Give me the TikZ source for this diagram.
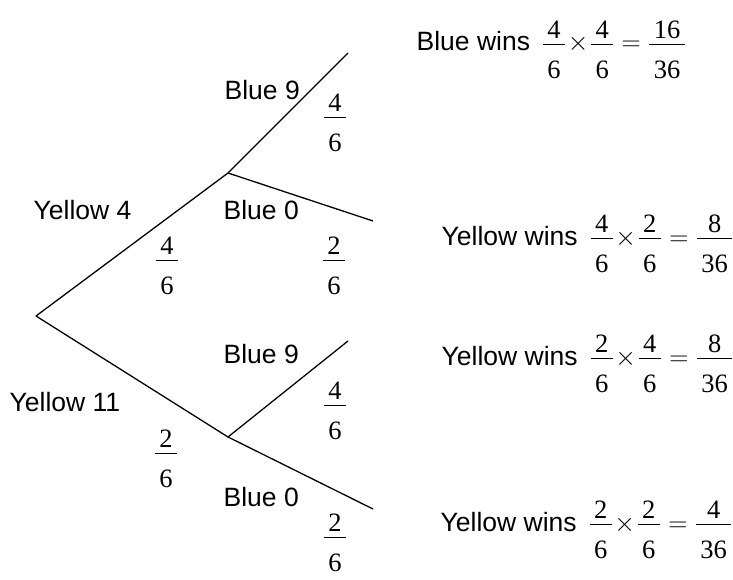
\RequirePackage{fix-cm}
\documentclass[tikz,border=0pt]{standalone}
\usepackage{amsmath}
\usepackage{fontspec}
\setmainfont{Liberation Serif}
\setsansfont{Liberation Sans}
\usetikzlibrary{positioning}
\newcommand{\pr}[2]{\dfrac{\raisebox{-5pt}{\,\textrm{#1}\,}}{\vrule height 30.8pt width 0pt\,\textrm{#2}\,}}

\begin{document}
\begin{tikzpicture}[x=1pt,y=-1pt,line width=1.3pt,
    lbl/.style={font=\sffamily\fontsize{26.5}{30}\selectfont,inner sep=0pt,anchor=west},
    prob/.style={font=\fontsize{26.5}{30}\selectfont,inner sep=0pt,anchor=base},
    res/.style={font=\sffamily\fontsize{26.5}{30}\selectfont,inner sep=0pt,anchor=base west}]
      \useasboundingbox (0,0) rectangle (733,580);

      % Tree points
      \coordinate (root) at (36,316);
      \coordinate (y4) at (228,173);
      \coordinate (y11) at (228,437);
      \coordinate (b9a) at (348,53);
      \coordinate (b0a) at (373,221);
      \coordinate (b9b) at (348,341);
      \coordinate (b0b) at (373,509);

      % Branches
      \draw (root) -- (y4) -- (b9a);
      \draw (y4) -- (b0a);
      \draw (root) -- (y11) -- (b9b);
      \draw (y11) -- (b0b);

      % Branch labels
      \node[lbl] (ly4) at (33,210) {Yellow 4};
      \node[lbl] (ly11) at (9,402) {Yellow 11};
      \node[lbl] (lb9a) at (224,90) {Blue 9};
      \node[lbl] (lb0a) at (223,210) {Blue 0};
      \node[lbl] (lb9b) at (223,354) {Blue 9};
      \node[lbl] (lb0b) at (223,497) {Blue 0};

      % Probabilities
      \node[prob] (py4) at (167,267) {$\pr{4}{6}$};
      \node[prob] (py11) at (166,460) {$\pr{2}{6}$};
      \node[prob] (pb9a) at (335,124) {$\pr{4}{6}$};
      \node[prob] (pb0a) at (334,267) {$\pr{2}{6}$};
      \node[prob] (pb9b) at (335,412) {$\pr{4}{6}$};
      \node[prob] (pb0b) at (335,544) {$\pr{2}{6}$};

      % Outcomes
      \node[res] (r1) at (416,51) {Blue wins $\,\pr{4}{6}\!\times\!\pr{4}{6}=\pr{16}{36}$};
      \node[res] (r2) at (441,245) {Yellow wins $\,\pr{4}{6}\!\times\!\pr{2}{6}=\pr{8}{36}$};
      \node[res] (r3) at (441,365) {Yellow wins $\,\pr{2}{6}\!\times\!\pr{4}{6}=\pr{8}{36}$};
      \node[res] (r4) at (440,531) {Yellow wins $\,\pr{2}{6}\!\times\!\pr{2}{6}=\pr{4}{36}$};
    \end{tikzpicture}
\end{document}
